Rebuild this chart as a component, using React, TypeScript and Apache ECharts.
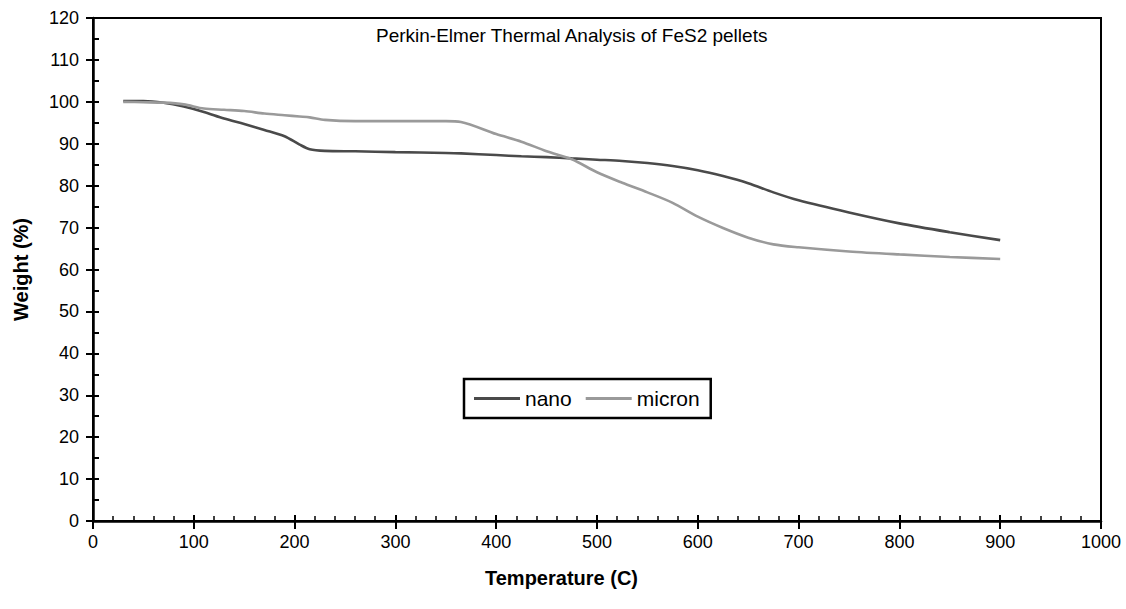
import React, { useEffect, useRef } from "react";
import * as echarts from "echarts";

const temps = [30, 50, 70, 90, 110, 130, 150, 170, 190, 205, 215, 230, 260, 300, 350, 365, 400, 425, 450, 475, 500, 525, 550, 575, 600, 625, 650, 675, 700, 750, 800, 850, 900];
const nano = [100.2, 100.2, 99.8, 98.9, 97.6, 96.0, 94.7, 93.3, 91.8, 89.8, 88.7, 88.3, 88.2, 88.0, 87.8, 87.7, 87.3, 87.0, 86.8, 86.5, 86.2, 85.9, 85.4, 84.7, 83.7, 82.3, 80.6, 78.4, 76.5, 73.6, 71.0, 68.9, 67.0];
const micron = [100.0, 99.9, 99.8, 99.4, 98.4, 98.1, 97.8, 97.2, 96.8, 96.5, 96.3, 95.7, 95.4, 95.4, 95.4, 95.2, 92.3, 90.5, 88.2, 86.3, 83.2, 80.7, 78.4, 75.9, 72.6, 69.9, 67.6, 66.0, 65.3, 64.3, 63.6, 63.0, 62.5];
const seriesNames = ["nano", "micron"];
const titleText = "Perkin-Elmer Thermal Analysis of FeS2 pellets";
const xTitle = "Temperature (C)";
const yTitle = "Weight (%)";

const FONT = "'Liberation Sans', Arial, Helvetica, sans-serif";

export default function App() {
  const ref = useRef<HTMLDivElement>(null);
  useEffect(() => {
    if (!ref.current) return;
    const chart = echarts.init(ref.current, null, { renderer: "svg" });
    const axisLine = { show: true, lineStyle: { color: "#000", width: 2.5 } };
    chart.setOption({
      animation: false,
      backgroundColor: "#fff",
      textStyle: { fontFamily: FONT },
      title: {
        text: titleText,
        left: 371,
        top: 21,
        textStyle: { fontFamily: FONT, fontSize: 19, fontWeight: "normal", color: "#000" },
      },
      legend: {
        data: seriesNames,
        left: 464,
        top: 379,
        orient: "horizontal",
        padding: [9, 11, 9, 10],
        itemGap: 14,
        itemWidth: 46,
        itemHeight: 3,
        icon: "rect",
        borderColor: "#000",
        borderWidth: 2.5,
        backgroundColor: "#fff",
        textStyle: { fontFamily: FONT, fontSize: 21, color: "#000" },
      },
      grid: {
        left: 93,
        right: 25,
        top: 18,
        bottom: 88,
        show: true,
        borderColor: "#000",
        borderWidth: 2,
        backgroundColor: "transparent",
      },
      xAxis: [
        {
          type: "value",
          min: 0,
          max: 1000,
          interval: 100,
          axisLine,
          axisTick: { show: true, inside: false, length: 8, lineStyle: { color: "#000", width: 2 } },
          axisLabel: { fontFamily: FONT, fontSize: 18, color: "#000", margin: 12, formatter: (v: number) => String(v) },
          splitLine: { show: false },
        },
        {
          type: "value",
          min: 0,
          max: 1000,
          interval: 100,
          position: "bottom",
          axisLine: { show: false },
          axisTick: { show: true, inside: true, length: 6, lineStyle: { color: "#000", width: 2 } },
          minorTick: { show: true, splitNumber: 5, length: 5, lineStyle: { color: "#000", width: 1.5 } },
          axisLabel: { show: false },
          splitLine: { show: false },
        },
      ],
      yAxis: [
        {
          type: "value",
          min: 0,
          max: 120,
          interval: 10,
          name: yTitle,
          nameLocation: "middle",
          nameGap: 62,
          nameTextStyle: { fontFamily: FONT, fontSize: 20, fontWeight: "bold", color: "#000" },
          axisLine,
          axisTick: { show: true, inside: false, length: 7, lineStyle: { color: "#000", width: 2 } },
          axisLabel: { fontFamily: FONT, fontSize: 18, color: "#000", margin: 14, formatter: (v: number) => String(v) },
          splitLine: { show: false },
        },
        {
          type: "value",
          min: 0,
          max: 120,
          interval: 10,
          position: "left",
          axisLine: { show: false },
          axisTick: { show: true, inside: true, length: 6, lineStyle: { color: "#000", width: 2 } },
          minorTick: { show: true, splitNumber: 2, length: 6, lineStyle: { color: "#000", width: 2 } },
          axisLabel: { show: false },
          splitLine: { show: false },
        },
      ],
      graphic: [
        {
          type: "text",
          left: 485,
          top: 568,
          style: { text: xTitle, fontFamily: FONT, fontSize: 20, fontWeight: "bold", fill: "#000" },
        },
      ],
      series: [
        {
          name: seriesNames[0],
          type: "line",
          xAxisIndex: 0,
          yAxisIndex: 0,
          data: temps.map((t, i) => [t, nano[i]]),
          showSymbol: false,
          symbol: "none",
          smooth: 0.3,
          color: "#4a4a4a",
          lineStyle: { color: "#4a4a4a", width: 2.6 },
        },
        {
          name: seriesNames[1],
          type: "line",
          xAxisIndex: 0,
          yAxisIndex: 0,
          data: temps.map((t, i) => [t, micron[i]]),
          showSymbol: false,
          symbol: "none",
          smooth: 0.3,
          color: "#9a9a9a",
          lineStyle: { color: "#9a9a9a", width: 2.6 },
        },
      ],
    });
    return () => chart.dispose();
  }, []);
  return (
    <div
      ref={ref}
      style={{ position: "absolute", left: 0, top: 0, width: 1126, height: 609 }}
    />
  );
}
